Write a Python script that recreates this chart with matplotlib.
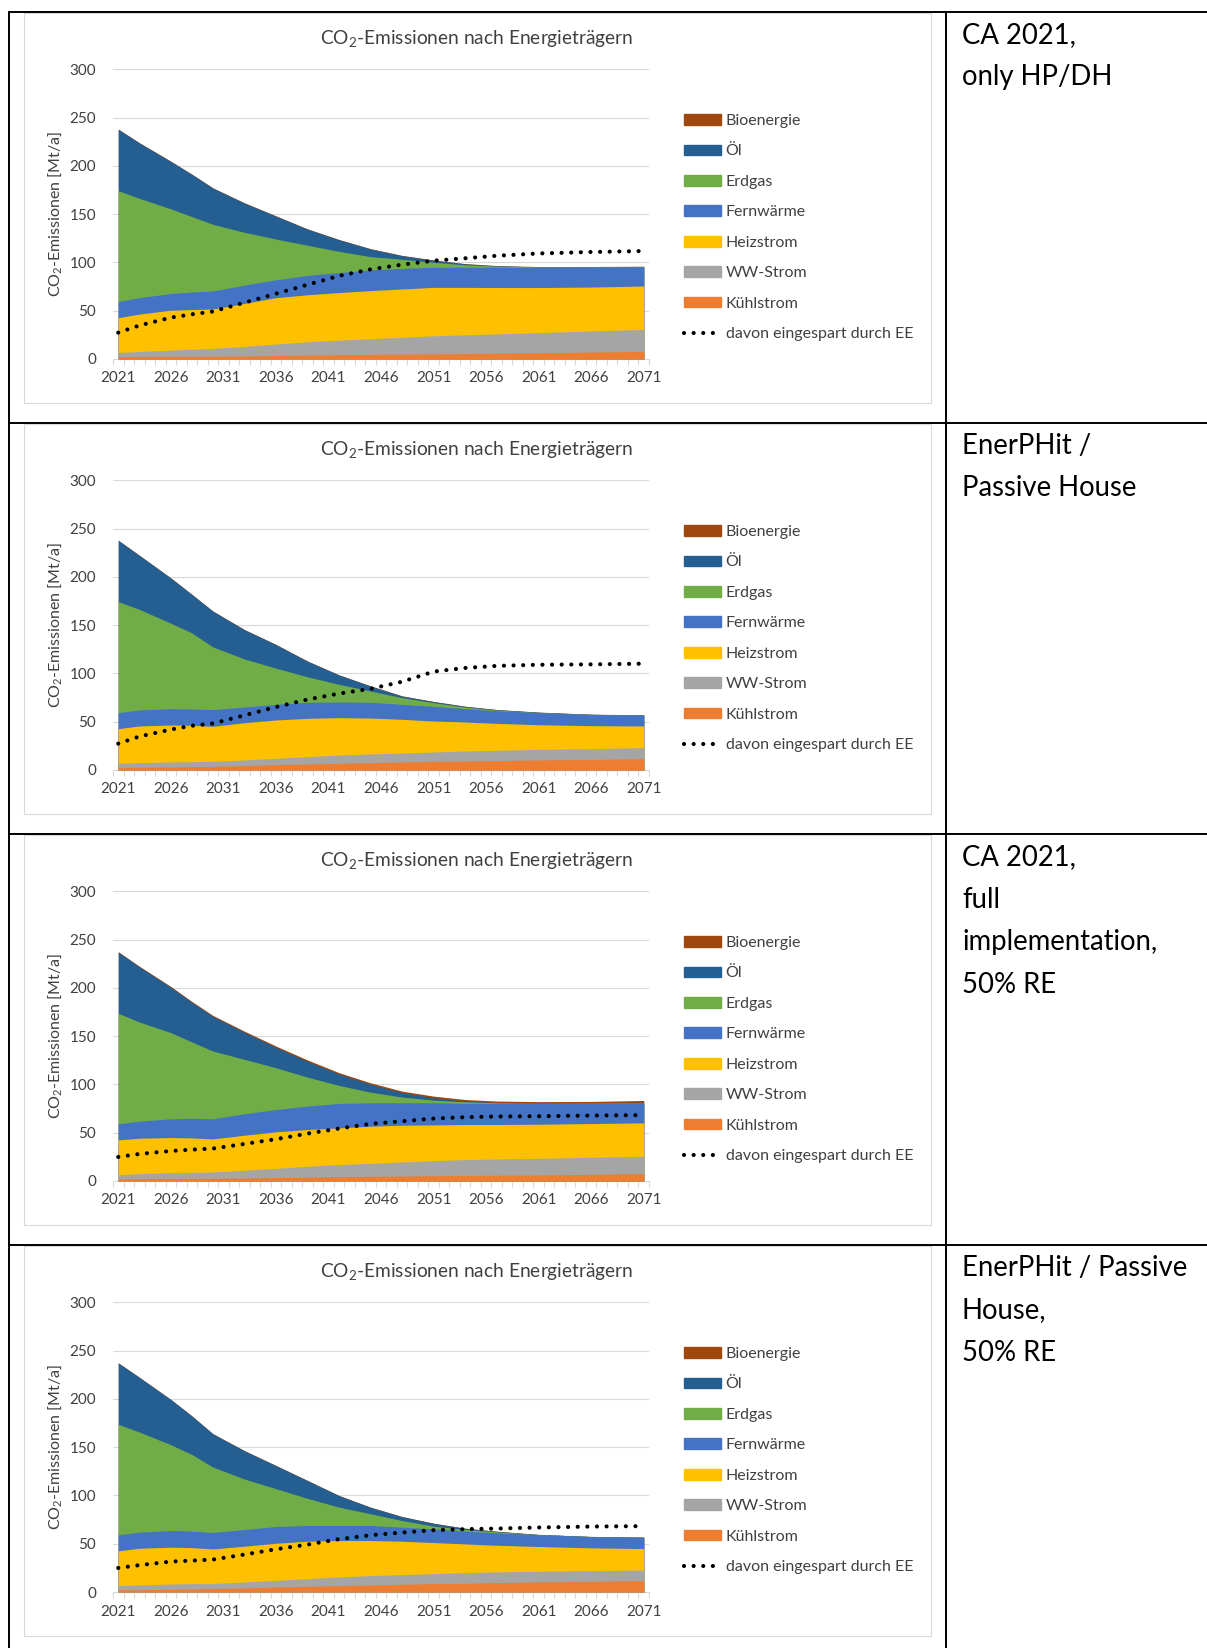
import matplotlib.pyplot as plt
import numpy as np
from matplotlib.lines import Line2D
from matplotlib.patches import Patch, Rectangle

plt.rcParams['font.family'] = ['Lato', 'DejaVu Sans']
plt.rcParams['mathtext.fontset'] = 'custom'
plt.rcParams['mathtext.rm'] = 'Lato'
plt.rcParams['mathtext.it'] = 'Lato:italic'
plt.rcParams['mathtext.bf'] = 'Lato:bold'

years = [2021, 2023, 2026, 2028, 2030, 2033, 2036, 2039, 2042, 2045, 2048, 2051, 2054, 2057, 2061, 2066, 2071]

# Szenario 1: CA 2021, only HP/DH  [Mt/a]
hp_kuehl = [2.4, 2.5, 2.7, 2.8, 2.9, 3.2, 3.6, 4.0, 4.4, 4.8, 5.0, 5.3, 5.6, 6.0, 6.5, 7.2, 7.9]
hp_ww = [4.5, 5.3, 6.5, 7.3, 8.1, 9.8, 11.9, 13.8, 15.1, 16.2, 17.5, 18.7, 19.4, 20.0, 20.8, 21.8, 22.8]
hp_heiz = [35.9, 38.7, 41.3, 41.1, 40.8, 44.5, 48.0, 48.7, 49.3, 49.8, 50.0, 50.2, 49.2, 48.0, 46.7, 45.5, 44.9]
hp_fern = [16.6, 17.0, 17.3, 18.1, 18.6, 19.0, 18.5, 20.0, 20.7, 21.4, 21.3, 20.7, 20.8, 21.0, 21.0, 20.8, 20.0]
hp_gas = [114.9, 102.9, 87.7, 78.2, 69.1, 54.7, 42.2, 31.3, 22.0, 13.8, 9.5, 5.3, 2.5, 1.2, 0.3, 0.1, 0.1]
hp_oel = [63.5, 57.4, 49.1, 43.7, 37.5, 30.3, 23.8, 16.7, 12.0, 8.0, 3.7, 2.1, 1.0, 0.3, 0.1, 0.1, 0.1]
hp_bio = [0.3, 0.3, 0.3, 0.3, 0.3, 0.3, 0.3, 0.3, 0.3, 0.3, 0.3, 0.3, 0.3, 0.3, 0.3, 0.3, 0.3]
hp_ee = [27.3, 34.7, 42.9, 46.3, 49.2, 58.4, 67.6, 76.9, 86.1, 92.8, 97.7, 101.8, 104.3, 106.9, 109.3, 110.8, 111.8]

# Szenario 2: EnerPHit / Passive House
ph_kuehl = [2.4, 2.8, 3.1, 3.5, 3.8, 4.5, 5.5, 6.2, 6.9, 7.6, 8.3, 9.0, 9.3, 9.7, 10.4, 11.0, 11.7]
ph_ww = [4.5, 4.8, 5.2, 5.1, 5.2, 5.9, 6.6, 7.6, 8.6, 9.0, 9.3, 9.6, 10.4, 10.7, 11.0, 11.1, 11.4]
ph_heiz = [35.9, 38.0, 38.3, 37.7, 36.2, 38.6, 39.7, 39.7, 38.7, 37.2, 34.9, 32.1, 30.0, 27.9, 25.5, 23.8, 22.5]
ph_fern = [16.6, 16.5, 16.9, 16.9, 17.3, 16.2, 16.2, 16.6, 16.2, 16.3, 15.5, 15.2, 13.8, 13.1, 12.5, 11.7, 11.4]
ph_gas = [114.9, 104.3, 88.5, 78.8, 65.0, 49.8, 37.5, 26.4, 18.3, 11.7, 6.9, 3.8, 1.7, 0.7, 0.1, 0.0, 0.0]
ph_oel = [63.5, 55.9, 46.8, 39.8, 37.0, 30.3, 24.4, 16.2, 9.7, 5.2, 1.7, 1.1, 0.7, 0.4, 0.3, 0.0, 0.0]
ph_bio = [0.2, 0.2, 0.2, 0.2, 0.2, 0.2, 0.2, 0.2, 0.2, 0.2, 0.2, 0.2, 0.2, 0.2, 0.2, 0.2, 0.2]
ph_ee = [27.3, 34.7, 41.9, 45.8, 48.2, 56.6, 65.2, 73.0, 79.1, 84.1, 91.4, 101.9, 105.7, 107.8, 109.0, 109.4, 110.1]

# Szenario 3: CA 2021, full implementation, 50% RE
ca_kuehl = [2.1, 2.3, 2.5, 2.7, 2.8, 3.1, 3.5, 4.0, 4.5, 4.9, 5.2, 5.5, 5.9, 6.0, 6.2, 6.9, 7.6]
ca_ww = [4.5, 5.3, 6.2, 6.3, 6.5, 8.0, 9.6, 11.2, 12.5, 13.4, 14.5, 15.6, 16.2, 16.8, 17.3, 17.7, 18.0]
ca_heiz = [36.0, 36.7, 36.3, 35.6, 34.3, 36.3, 37.8, 38.1, 38.0, 38.4, 38.1, 37.0, 36.4, 35.7, 35.3, 34.9, 34.6]
ca_fern = [16.6, 17.6, 19.4, 20.4, 20.8, 22.2, 23.1, 24.2, 25.3, 24.3, 23.2, 22.9, 21.8, 21.8, 21.5, 21.1, 20.8]
ca_gas = [114.5, 102.8, 89.2, 79.0, 70.2, 56.4, 43.3, 30.1, 18.7, 11.0, 5.9, 2.7, 1.7, 0.7, 0.2, 0.1, 0.1]
ca_oel = [63.3, 57.2, 47.1, 41.1, 35.9, 28.0, 21.2, 16.4, 11.8, 8.3, 4.7, 2.6, 0.8, 0.2, 0.1, 0.0, 0.5]
ca_bio = [0.5, 0.6, 0.8, 0.9, 1.0, 1.2, 1.3, 1.4, 1.4, 1.4, 1.5, 1.6, 1.6, 1.6, 1.6, 1.7, 1.8]
ca_ee = [24.9, 28.0, 31.1, 32.5, 33.6, 38.4, 43.3, 49.1, 54.3, 59.2, 61.9, 64.7, 66.1, 66.8, 67.1, 67.8, 68.2]

# Szenario 4: EnerPHit / Passive House, 50% RE
pr_kuehl = [2.1, 2.4, 2.8, 3.1, 3.5, 4.2, 5.2, 5.9, 6.6, 7.3, 8.0, 8.7, 9.0, 9.7, 10.4, 11.1, 11.8]
pr_ww = [4.5, 4.9, 5.5, 5.6, 5.2, 6.2, 6.9, 7.9, 9.0, 9.7, 10.0, 10.3, 11.1, 11.1, 11.1, 11.0, 11.0]
pr_heiz = [36.0, 38.0, 38.1, 37.3, 35.9, 37.0, 38.4, 38.8, 37.7, 36.3, 34.6, 32.2, 29.7, 27.6, 25.6, 23.6, 22.2]
pr_fern = [16.6, 16.6, 17.3, 17.0, 17.0, 17.3, 17.3, 16.3, 15.6, 15.6, 14.5, 14.2, 13.2, 12.8, 12.4, 11.7, 11.7]
pr_gas = [114.5, 103.8, 88.8, 79.5, 67.8, 52.3, 39.2, 28.1, 19.0, 12.1, 6.9, 2.8, 1.7, 1.1, 0.0, 0.0, 0.0]
pr_oel = [63.5, 56.6, 46.8, 39.8, 34.4, 29.3, 23.9, 18.4, 11.9, 6.7, 4.0, 2.9, 1.2, 0.5, 0.0, 0.0, 0.0]
pr_bio = [0.2, 0.2, 0.2, 0.2, 0.2, 0.2, 0.2, 0.2, 0.2, 0.2, 0.2, 0.2, 0.2, 0.2, 0.2, 0.2, 0.2]
pr_ee = [24.9, 27.8, 31.5, 32.5, 33.6, 38.8, 44.3, 49.1, 54.7, 58.8, 61.6, 64.0, 65.1, 65.7, 66.8, 67.8, 68.2]

# Stapelreihenfolge von unten nach oben
carriers = ['Kühlstrom', 'WW-Strom', 'Heizstrom', 'Fernwärme', 'Erdgas', 'Öl', 'Bioenergie']
colors = ['#ED7D31', '#A5A5A5', '#FFC000', '#4472C4', '#70AD47', '#255E91', '#9E480E']
ee_label = 'davon eingespart durch EE'

scenario_text = [
    ['CA 2021,', 'only HP/DH'],
    ['EnerPHit /', 'Passive House'],
    ['CA 2021,', 'full', 'implementation,', '50% RE'],
    ['EnerPHit / Passive', 'House,', '50% RE'],
]
scenarios = [
    ([hp_kuehl, hp_ww, hp_heiz, hp_fern, hp_gas, hp_oel, hp_bio], hp_ee),
    ([ph_kuehl, ph_ww, ph_heiz, ph_fern, ph_gas, ph_oel, ph_bio], ph_ee),
    ([ca_kuehl, ca_ww, ca_heiz, ca_fern, ca_gas, ca_oel, ca_bio], ca_ee),
    ([pr_kuehl, pr_ww, pr_heiz, pr_fern, pr_gas, pr_oel, pr_bio], pr_ee),
]

W, H = 1207, 1648
ROW = 411
TXT = '#404040'
GRID = '#D9D9D9'
EE_STYLE = dict(color='black', lw=3, linestyle=(0, (0.01, 2.3)), dash_capstyle='round')

fig = plt.figure(figsize=(W / 100, H / 100), dpi=100)


def fx(px):
    return px / W


def fy(py):
    return 1 - py / H


# Tabellengitter
for y in [12, 12 + ROW, 12 + 2 * ROW, 12 + 3 * ROW]:
    fig.add_artist(Line2D([fx(9), 1], [fy(y), fy(y)], color='black', lw=1.4))
for x in [9, 946]:
    fig.add_artist(Line2D([fx(x), fx(x)], [fy(12), 0], color='black', lw=1.4))

for k, ((stack, ee), lines) in enumerate(zip(scenarios, scenario_text)):
    dy = ROW * k

    # Diagrammrahmen
    fig.add_artist(Rectangle((fx(24), fy(403 + dy)), fx(931) - fx(24), fy(13 + dy) - fy(403 + dy),
                             fill=False, ec=GRID, lw=0.8))
    fig.text(fx(477), fy(44.3 + dy), 'CO$_2$-Emissionen nach Energieträgern',
             ha='center', va='baseline', fontsize=13.8, color=TXT)

    ax = fig.add_axes([fx(113), fy(359 + dy), (649 - 113) / W, (359 - 69.3) / H])

    # gestapelte Flächen: kumuliert von oben nach unten übermalen
    tops = np.cumsum(np.array(stack), axis=0)
    for i in reversed(range(len(carriers))):
        ax.fill_between(years, 0, tops[i], color=colors[i], lw=0)
    ax.plot(years, ee, **EE_STYLE)

    ax.set_xlim(2020.5, 2071.5)
    ax.set_ylim(0, 300)
    ax.set_yticks(range(0, 301, 50))
    ax.set_xticks(range(2021, 2072, 5))
    ax.set_xticks(np.arange(2020.5, 2072, 1), minor=True)
    ax.grid(axis='y', color=GRID, lw=0.8)
    ax.set_axisbelow(True)
    for s in ['top', 'left', 'right']:
        ax.spines[s].set_visible(False)
    ax.spines['bottom'].set_color(GRID)
    ax.spines['bottom'].set_linewidth(0.8)
    ax.spines['bottom'].set_zorder(0.5)
    ax.tick_params(axis='x', which='major', length=0, pad=9, labelsize=11, labelcolor=TXT)
    ax.tick_params(axis='x', which='minor', length=4.3, width=0.8, color=GRID)
    ax.tick_params(axis='y', length=0, pad=12, labelsize=11, labelcolor=TXT)
    ax.text((54.7 - 113) / 536, 0.5, 'CO$_2$-Emissionen [Mt/a]', transform=ax.transAxes,
            rotation=90, ha='center', va='center', fontsize=11.5, color=TXT)

    handles = [Patch(color=c) for c in colors[::-1]] + [Line2D([], [], **EE_STYLE)]
    labels = carriers[::-1] + [ee_label]
    ax.legend(handles, labels, loc='upper left', bbox_to_anchor=(fx(684), fy(114 + dy)),
              bbox_transform=fig.transFigure, frameon=False, fontsize=11.5, labelcolor=TXT,
              borderpad=0, borderaxespad=0, handlelength=2.3, handleheight=0.65,
              handletextpad=0.3, labelspacing=1.03)

    # Szenariobeschreibung in der rechten Spalte
    for j, line in enumerate(lines):
        fig.text(fx(962), fy(12 + dy + 31 + 42.5 * j), line, ha='left', va='baseline',
                 fontsize=19.8, color='black')

fig.savefig('out.png', dpi=100, facecolor='white')
